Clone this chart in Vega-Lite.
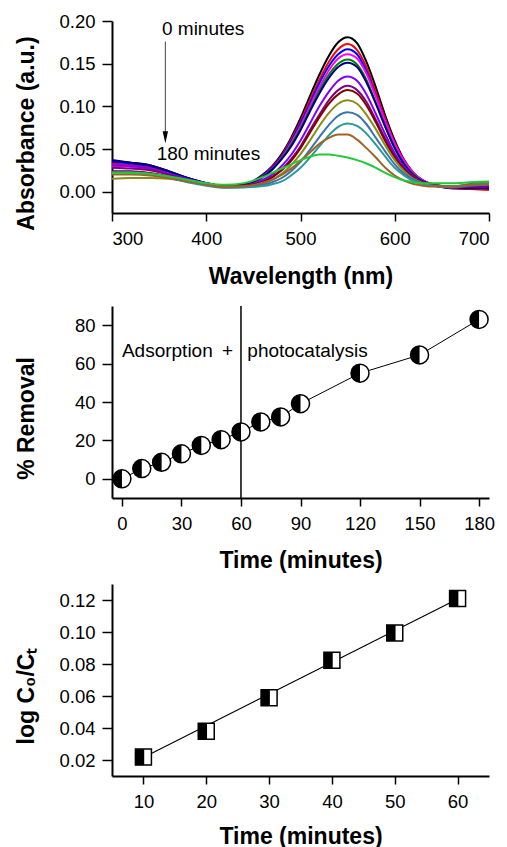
{
  "$schema": "https://vega.github.io/schema/vega-lite/v6.json",
  "autosize": {"type": "none"},
  "padding": {"left": 112, "top": 21, "right": 395, "bottom": 826},
  "background": "white",
  "datasets": {
    "spec": [
      {"w":300,"s01":0.036,"s02":0.033,"s03":0.035,"s04":0.030,"s05":0.022,"s06":0.037,"s07":0.031,"s08":0.028,"s09":0.024,"s10":0.015,"s11":0.023,"s12":0.021,"s13":0.020,"s14":0.022},
      {"w":320,"s01":0.034,"s02":0.031,"s03":0.033,"s04":0.029,"s05":0.022,"s06":0.034,"s07":0.030,"s08":0.027,"s09":0.024,"s10":0.016,"s11":0.023,"s12":0.021,"s13":0.020,"s14":0.022},
      {"w":340,"s01":0.031,"s02":0.028,"s03":0.030,"s04":0.026,"s05":0.021,"s06":0.031,"s07":0.027,"s08":0.025,"s09":0.022,"s10":0.016,"s11":0.021,"s12":0.020,"s13":0.019,"s14":0.021},
      {"w":360,"s01":0.024,"s02":0.022,"s03":0.0235,"s04":0.021,"s05":0.017,"s06":0.024,"s07":0.021,"s08":0.020,"s09":0.018,"s10":0.015,"s11":0.017,"s12":0.016,"s13":0.016,"s14":0.018},
      {"w":380,"s01":0.016,"s02":0.015,"s03":0.016,"s04":0.015,"s05":0.013,"s06":0.016,"s07":0.015,"s08":0.014,"s09":0.013,"s10":0.012,"s11":0.012,"s12":0.011,"s13":0.012,"s14":0.014},
      {"w":400,"s01":0.010,"s02":0.010,"s03":0.010,"s04":0.0095,"s05":0.009,"s06":0.010,"s07":0.0095,"s08":0.009,"s09":0.009,"s10":0.009,"s11":0.008,"s12":0.007,"s13":0.008,"s14":0.010},
      {"w":420,"s01":0.0065,"s02":0.0065,"s03":0.0065,"s04":0.006,"s05":0.006,"s06":0.0065,"s07":0.006,"s08":0.006,"s09":0.006,"s10":0.006,"s11":0.005,"s12":0.0045,"s13":0.0055,"s14":0.008},
      {"w":440,"s01":0.008,"s02":0.008,"s03":0.008,"s04":0.008,"s05":0.008,"s06":0.008,"s07":0.007,"s08":0.007,"s09":0.007,"s10":0.006,"s11":0.0055,"s12":0.005,"s13":0.0064,"s14":0.010},
      {"w":460,"s01":0.020,"s02":0.019,"s03":0.019,"s04":0.018,"s05":0.018,"s06":0.017,"s07":0.014,"s08":0.012,"s09":0.011,"s10":0.010,"s11":0.008,"s12":0.0065,"s13":0.0102,"s14":0.017},
      {"w":470,"s01":0.030,"s02":0.029,"s03":0.028,"s04":0.027,"s05":0.026,"s06":0.026,"s07":0.020,"s08":0.017,"s09":0.017,"s10":0.014,"s11":0.011,"s12":0.0087,"s13":0.014,"s14":0.022},
      {"w":480,"s01":0.044,"s02":0.042,"s03":0.041,"s04":0.040,"s05":0.039,"s06":0.038,"s07":0.030,"s08":0.026,"s09":0.025,"s10":0.021,"s11":0.016,"s12":0.012,"s13":0.0196,"s14":0.027},
      {"w":490,"s01":0.063,"s02":0.061,"s03":0.059,"s04":0.057,"s05":0.055,"s06":0.053,"s07":0.043,"s08":0.038,"s09":0.036,"s10":0.031,"s11":0.024,"s12":0.019,"s13":0.027,"s14":0.032},
      {"w":500,"s01":0.086,"s02":0.082,"s03":0.080,"s04":0.077,"s05":0.074,"s06":0.072,"s07":0.060,"s08":0.053,"s09":0.051,"s10":0.044,"s11":0.035,"s12":0.028,"s13":0.036,"s14":0.037},
      {"w":510,"s01":0.112,"s02":0.107,"s03":0.103,"s04":0.100,"s05":0.096,"s06":0.094,"s07":0.080,"s08":0.072,"s09":0.069,"s10":0.060,"s11":0.049,"s12":0.040,"s13":0.046,"s14":0.041},
      {"w":520,"s01":0.137,"s02":0.131,"s03":0.127,"s04":0.122,"s05":0.118,"s06":0.115,"s07":0.100,"s08":0.090,"s09":0.087,"s10":0.077,"s11":0.064,"s12":0.053,"s13":0.056,"s14":0.0435},
      {"w":530,"s01":0.159,"s02":0.152,"s03":0.147,"s04":0.142,"s05":0.137,"s06":0.133,"s07":0.117,"s08":0.107,"s09":0.103,"s10":0.092,"s11":0.078,"s12":0.066,"s13":0.063,"s14":0.0435},
      {"w":540,"s01":0.175,"s02":0.167,"s03":0.161,"s04":0.156,"s05":0.150,"s06":0.146,"s07":0.130,"s08":0.119,"s09":0.114,"s10":0.103,"s11":0.089,"s12":0.076,"s13":0.067,"s14":0.042},
      {"w":550,"s01":0.181,"s02":0.173,"s03":0.167,"s04":0.161,"s05":0.155,"s06":0.151,"s07":0.135,"s08":0.124,"s09":0.119,"s10":0.107,"s11":0.093,"s12":0.080,"s13":0.067,"s14":0.040},
      {"w":560,"s01":0.174,"s02":0.166,"s03":0.161,"s04":0.156,"s05":0.149,"s06":0.146,"s07":0.130,"s08":0.119,"s09":0.115,"s10":0.103,"s11":0.090,"s12":0.077,"s13":0.061,"s14":0.037},
      {"w":570,"s01":0.152,"s02":0.146,"s03":0.141,"s04":0.138,"s05":0.131,"s06":0.128,"s07":0.114,"s08":0.105,"s09":0.101,"s10":0.090,"s11":0.079,"s12":0.068,"s13":0.051,"s14":0.033},
      {"w":580,"s01":0.122,"s02":0.116,"s03":0.112,"s04":0.111,"s05":0.104,"s06":0.103,"s07":0.091,"s08":0.084,"s09":0.081,"s10":0.073,"s11":0.063,"s12":0.055,"s13":0.040,"s14":0.028},
      {"w":590,"s01":0.089,"s02":0.085,"s03":0.082,"s04":0.082,"s05":0.076,"s06":0.076,"s07":0.067,"s08":0.062,"s09":0.059,"s10":0.054,"s11":0.047,"s12":0.041,"s13":0.028,"s14":0.022},
      {"w":600,"s01":0.060,"s02":0.057,"s03":0.055,"s04":0.056,"s05":0.051,"s06":0.051,"s07":0.045,"s08":0.042,"s09":0.040,"s10":0.037,"s11":0.032,"s12":0.028,"s13":0.019,"s14":0.017},
      {"w":610,"s01":0.037,"s02":0.036,"s03":0.035,"s04":0.036,"s05":0.032,"s06":0.032,"s07":0.029,"s08":0.027,"s09":0.026,"s10":0.024,"s11":0.021,"s12":0.019,"s13":0.013,"s14":0.013},
      {"w":620,"s01":0.022,"s02":0.021,"s03":0.021,"s04":0.022,"s05":0.020,"s06":0.019,"s07":0.018,"s08":0.017,"s09":0.016,"s10":0.015,"s11":0.014,"s12":0.012,"s13":0.009,"s14":0.011},
      {"w":630,"s01":0.013,"s02":0.013,"s03":0.013,"s04":0.013,"s05":0.012,"s06":0.012,"s07":0.011,"s08":0.011,"s09":0.010,"s10":0.010,"s11":0.009,"s12":0.009,"s13":0.007,"s14":0.010},
      {"w":640,"s01":0.009,"s02":0.0085,"s03":0.0085,"s04":0.0085,"s05":0.008,"s06":0.008,"s07":0.008,"s08":0.0075,"s09":0.0074,"s10":0.007,"s11":0.007,"s12":0.0066,"s13":0.006,"s14":0.010},
      {"w":660,"s01":0.005,"s02":0.004,"s03":0.005,"s04":0.005,"s05":0.006,"s06":0.004,"s07":0.005,"s08":0.005,"s09":0.005,"s10":0.006,"s11":0.005,"s12":0.006,"s13":0.006,"s14":0.010},
      {"w":680,"s01":0.004,"s02":0.003,"s03":0.005,"s04":0.006,"s05":0.009,"s06":0.004,"s07":0.006,"s08":0.006,"s09":0.007,"s10":0.008,"s11":0.007,"s12":0.008,"s13":0.008,"s14":0.011},
      {"w":700,"s01":0.004,"s02":0.002,"s03":0.005,"s04":0.007,"s05":0.011,"s06":0.004,"s07":0.006,"s08":0.007,"s09":0.008,"s10":0.010,"s11":0.008,"s12":0.010,"s13":0.009,"s14":0.012}
    ],
    "rem": [
      {"t":0,"r":0},{"t":10,"r":5.3},{"t":20,"r":8.6},{"t":30,"r":13},{"t":40,"r":17.4},{"t":50,"r":20.4},{"t":60,"r":24.4},
      {"t":70,"r":29.6},{"t":80,"r":32.2},{"t":90,"r":39.1},{"t":120,"r":55},{"t":150,"r":64.5},{"t":180,"r":83}
    ],
    "kin": [
      {"t":10,"v":0.0218},{"t":20,"v":0.0379},{"t":30,"v":0.0589},{"t":40,"v":0.0824},{"t":50,"v":0.0994},{"t":60,"v":0.121}
    ],
    "fit": [
      {"t":10,"v":0.0216},{"t":60,"v":0.1206}
    ],
    "one": [{}]
  },
  "bounds": "flush",
  "spacing": 93,
  "vconcat": [
    {
      "width": 377,
      "height": 192,
      "layer": [
        {
          "data": {"name": "spec"},
          "transform": [{"fold": ["s01","s02","s03","s04","s05","s06","s07","s08","s09","s10","s11","s12","s13","s14"], "as": ["s","a"]}],
          "mark": {"type": "line", "strokeWidth": 2, "interpolate": "monotone"},
          "encoding": {
            "x": {"field": "w", "type": "quantitative", "scale": {"domain": [300,700], "nice": false, "zero": false},
                  "axis": {"title": "Wavelength (nm)", "values": [300,400,500,600,700], "tickCount": 10, "titleY": 70}},
            "y": {"field": "a", "type": "quantitative", "scale": {"domain": [-0.025,0.2], "nice": false, "zero": false},
                  "axis": {"title": "Absorbance (a.u.)", "values": [0,0.05,0.1,0.15,0.2], "tickCount": 10, "format": ".2f"}},
            "color": {"field": "s", "type": "nominal", "legend": null,
                      "scale": {"domain": ["s01","s02","s03","s04","s05","s06","s07","s08","s09","s10","s11","s12","s13","s14"],
                                "range": ["#000000","#ff0000","#0000ff","#ff00ff","#008000","#000080","#8000ff","#800080","#800000","#8c8a1a","#3a72b0","#2a9a9a","#a0622a","#22c83a"]}}
          }
        },
        {
          "data": {"name": "one"},
          "mark": {"type": "rule", "color": "#444444", "strokeWidth": 1},
          "encoding": {"x": {"datum": 356.6}, "y": {"datum": 0.1758}, "y2": {"datum": 0.07}}
        },
        {
          "data": {"name": "one"},
          "mark": {"type": "point", "shape": "M-0.45,-1L0.45,-1L0,1Z", "filled": true, "color": "black", "size": 144, "opacity": 1},
          "encoding": {"x": {"datum": 356.6}, "y": {"datum": 0.0637}}
        },
        {
          "data": {"name": "one"},
          "mark": {"type": "text", "text": "0 minutes", "align": "left", "baseline": "alphabetic", "fontSize": 19, "font": "Liberation Sans", "color": "black"},
          "encoding": {"x": {"datum": 353}, "y": {"datum": 0.1836}}
        },
        {
          "data": {"name": "one"},
          "mark": {"type": "text", "text": "180 minutes", "align": "left", "baseline": "alphabetic", "fontSize": 19, "font": "Liberation Sans", "color": "black"},
          "encoding": {"x": {"datum": 347.4}, "y": {"datum": 0.0374}}
        }
      ]
    },
    {
      "bounds": "flush",
      "spacing": 86,
      "vconcat": [
        {
          "width": 377,
          "height": 192,
          "layer": [
            {
              "data": {"name": "rem"},
              "mark": {"type": "line", "color": "black", "strokeWidth": 1},
              "encoding": {
                "x": {"field": "t", "type": "quantitative", "scale": {"domain": [-5,185], "nice": false, "zero": false},
                      "axis": {"title": "Time (minutes)", "values": [0,30,60,90,120,150,180], "tickCount": 10, "titleY": 69.5}},
                "y": {"field": "r", "type": "quantitative", "scale": {"domain": [-10,90], "nice": false, "zero": false},
                      "axis": {"title": "% Removal", "values": [0,20,40,60,80], "tickCount": 10}}
              }
            },
            {
              "data": {"name": "one"},
              "mark": {"type": "rule", "color": "black", "strokeWidth": 1.5},
              "encoding": {"x": {"datum": 60}}
            },
            {
              "data": {"name": "rem"},
              "mark": {"type": "point", "shape": "circle", "filled": true, "fill": "white", "stroke": "black", "strokeWidth": 1.5, "size": 324, "opacity": 1},
              "encoding": {"x": {"field": "t", "type": "quantitative"}, "y": {"field": "r", "type": "quantitative"}}
            },
            {
              "data": {"name": "rem"},
              "mark": {"type": "point", "shape": "M0,-1A1,1 0 0,0 0,1Z", "filled": true, "color": "black", "size": 324, "opacity": 1, "strokeWidth": 0},
              "encoding": {"x": {"field": "t", "type": "quantitative"}, "y": {"field": "r", "type": "quantitative"}}
            },
            {
              "data": {"name": "one"},
              "mark": {"type": "text", "text": "Adsorption", "align": "left", "baseline": "alphabetic", "fontSize": 19, "font": "Liberation Sans", "color": "black"},
              "encoding": {"x": {"datum": 0}, "y": {"datum": 63.5}}
            },
            {
              "data": {"name": "one"},
              "mark": {"type": "text", "text": "+", "align": "center", "baseline": "alphabetic", "fontSize": 19, "font": "Liberation Sans", "color": "black"},
              "encoding": {"x": {"datum": 53.2}, "y": {"datum": 63.5}}
            },
            {
              "data": {"name": "one"},
              "mark": {"type": "text", "text": "photocatalysis", "align": "left", "baseline": "alphabetic", "fontSize": 19, "font": "Liberation Sans", "color": "black"},
              "encoding": {"x": {"datum": 63.2}, "y": {"datum": 63.5}}
            }
          ]
        },
        {
          "width": 377,
          "height": 192,
          "layer": [
            {
              "data": {"name": "fit"},
              "mark": {"type": "line", "color": "black", "strokeWidth": 1.2},
              "encoding": {
                "x": {"field": "t", "type": "quantitative", "scale": {"domain": [5,65], "nice": false, "zero": false},
                      "axis": {"title": "Time (minutes)", "values": [10,20,30,40,50,60], "tickCount": 10, "titleY": 67}},
                "y": {"field": "v", "type": "quantitative", "scale": {"domain": [0.01,0.13], "nice": false, "zero": false},
                      "axis": {"title": "log C₀/Cₜ", "values": [0.02,0.04,0.06,0.08,0.1,0.12], "tickCount": 10, "format": ".2f"}}
              }
            },
            {
              "data": {"name": "kin"},
              "mark": {"type": "point", "shape": "square", "filled": true, "fill": "white", "stroke": "black", "strokeWidth": 1.5, "size": 256, "opacity": 1},
              "encoding": {"x": {"field": "t", "type": "quantitative"}, "y": {"field": "v", "type": "quantitative"}}
            },
            {
              "data": {"name": "kin"},
              "mark": {"type": "point", "shape": "M-1,-1L0.1,-1L0.1,1L-1,1Z", "filled": true, "color": "black", "size": 256, "opacity": 1, "strokeWidth": 0},
              "encoding": {"x": {"field": "t", "type": "quantitative"}, "y": {"field": "v", "type": "quantitative"}}
            }
          ]
        }
      ]
    }
  ],
  "config": {
    "view": {"stroke": null},
    "axis": {
      "grid": false,
      "labelOverlap": false,
      "domainColor": "black",
      "domainWidth": 2,
      "tickColor": "black",
      "tickWidth": 1.5,
      "labelColor": "black",
      "labelFont": "Liberation Sans",
      "labelFontSize": 18.5,
      "titleFont": "Liberation Sans",
      "titleFontSize": 23,
      "titleFontWeight": "bold",
      "titleColor": "black"
    },
    "axisX": {"tickSize": 8, "labelPadding": 23, "labelBaseline": "alphabetic", "titleBaseline": "alphabetic", "titleAnchor": "middle"},
    "axisY": {"tickSize": 10, "labelPadding": 7, "titleX": -79, "titleY": 112, "titleBaseline": "alphabetic", "titleAlign": "center", "titleAngle": -90}
  }
}
